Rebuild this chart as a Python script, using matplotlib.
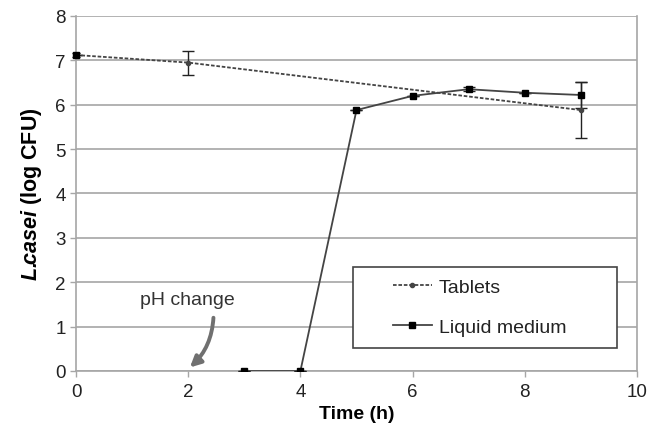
import matplotlib
matplotlib.use("Agg")
import matplotlib.pyplot as plt
from matplotlib.patches import Rectangle

plt.rcParams['font.family'] = ['Liberation Sans', 'DejaVu Sans']
plt.rcParams['mathtext.fontset'] = 'custom'
plt.rcParams['mathtext.bfit'] = 'Liberation Sans:italic:bold'
plt.rcParams['mathtext.bf'] = 'Liberation Sans:bold'
plt.rcParams['mathtext.rm'] = 'Liberation Sans'

# Tablets (dotted)
tab_t = [0, 2, 9]
tab_y = [7.12, 6.95, 5.88]
tab_err = [0.0, 0.27, 0.63]

# Liquid medium (solid)
liq_t = [3, 4, 5, 6, 7, 8, 9]
liq_y = [0.0, 0.0, 5.88, 6.2, 6.35, 6.27, 6.22]
liq_err = [0.0, 0.0, 0.0, 0.0, 0.04, 0.0, 0.3]

# initial count at t=0
init_t = [0]
init_y = [7.12]
init_err = [0.04]

fig = plt.figure(figsize=(6.48, 4.31), dpi=100)
ax = fig.add_axes([0.1173, 0.1369, 0.8657, 0.8237])

gridc = '#a6a6a6'
ax.set_xlim(0, 10)
ax.set_ylim(0, 8)
ax.set_yticks(range(0, 9))
ax.set_xticks(range(0, 11, 2))
ax.yaxis.grid(True, color=gridc, linewidth=1.2)
ax.set_axisbelow(True)
ax.spines['top'].set_visible(False)
for s in ['left', 'bottom', 'right']:
    ax.spines[s].set_color(gridc)
    ax.spines[s].set_linewidth(1.2)
ax.tick_params(axis='both', colors=gridc, labelcolor='#222222', labelsize=13.5,
               length=4, width=1, direction='out')
ax.tick_params(axis='x', pad=5)

tab = ax.errorbar(tab_t, tab_y, yerr=tab_err, color='#444444', linestyle=(0, (2, 1)),
                  linewidth=1.3, marker='o', markersize=3, capsize=4, elinewidth=1,
                  ecolor='#222222', zorder=3)
liq = ax.errorbar(liq_t, liq_y, yerr=liq_err, color='#444444', linestyle='-',
                  linewidth=1.3, marker='s', markersize=5, markerfacecolor='black',
                  markeredgecolor='black', capsize=4, elinewidth=1, ecolor='#222222',
                  zorder=3)
ax.errorbar(init_t, init_y, yerr=init_err, color='black', linestyle='none',
            marker='s', markersize=5, capsize=3, elinewidth=1, zorder=4,
            clip_on=False)

ax.set_xlabel('Time (h)', fontsize=14, fontweight='bold', labelpad=3)
ax.set_ylabel(r'$\bfit{L.\!\!casei}$ (log CFU)', fontsize=15.5, fontweight='bold', labelpad=8)

ax.annotate('pH change', xy=(2.03, 0.06), xytext=(1.98, 1.62), ha='center', va='center',
            fontsize=14, color='#333333')
ax.annotate('', xy=(2.03, 0.08), xytext=(2.45, 1.2),
            arrowprops=dict(arrowstyle='-|>', color='#707070', lw=2.8,
                            connectionstyle='arc3,rad=-0.2', shrinkA=0, shrinkB=0,
                            mutation_scale=16))

ax.add_patch(Rectangle((0.494, 0.065), 0.47, 0.228, transform=ax.transAxes,
                       facecolor='white', edgecolor='#444444', linewidth=1.2, zorder=5))
leg = ax.legend([tab.lines[0], liq.lines[0]], ['Tablets', 'Liquid medium'],
                loc='center left', bbox_to_anchor=(0.565, 0.179), fontsize=14,
                frameon=False, handlelength=2.0, handletextpad=0.35,
                labelspacing=1.15, borderpad=0, borderaxespad=0)
leg.set_zorder(6)
for t in leg.get_texts():
    t.set_color('#222222')

fig.savefig('out.png', dpi=100)
